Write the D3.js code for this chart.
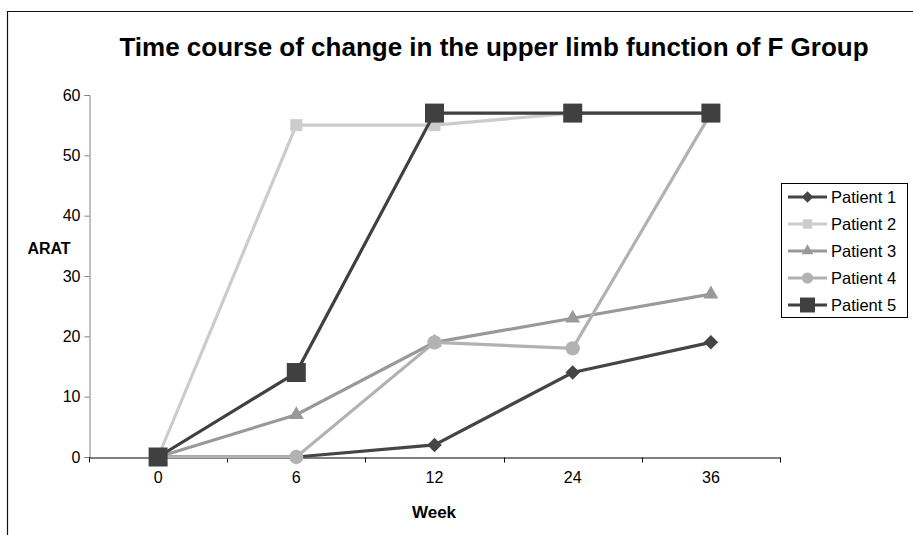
<!DOCTYPE html>
<html>
<head>
<meta charset="utf-8">
<script src="https://cdn.jsdelivr.net/npm/d3@7"></script>
<style>
  body { margin: 0; background: #fff; }
  text { font-family: "Liberation Sans", Arial, sans-serif; }
</style>
</head>
<body>
<div id="chart"></div>
<script>
const weeks = ["0", "6", "12", "24", "36"]
const patient1 = [0, 0, 2, 14, 19]
const patient2 = [0, 55, 55, 57, 57]
const patient3 = [0, 7, 19, 23, 27]
const patient4 = [0, 0, 19, 18, 57]
const patient5 = [0, 14, 57, 57, 57]
const yTicks = [0, 10, 20, 30, 40, 50, 60]

const series = [
    { name: "Patient 1", values: patient1, color: "#454545", shape: "diamond", size: 105 },
    { name: "Patient 2", values: patient2, color: "#cccccc", shape: "square", size: 144 },
    { name: "Patient 3", values: patient3, color: "#999999", shape: "triangle", size: 95 },
    { name: "Patient 4", values: patient4, color: "#b2b2b2", shape: "circle", size: 160 },
    { name: "Patient 5", values: patient5, color: "#404040", shape: "square", size: 361 }
]

const width = 913, height = 535

const svg = d3.select("#chart").append("svg")
    .attr("width", width)
    .attr("height", height)

// outer chart frame (cropped at the right and bottom)
svg.append("line").attr("x1", 7).attr("x2", width).attr("y1", 11.5).attr("y2", 11.5)
    .attr("stroke", "#111").attr("stroke-width", 1.2)
svg.append("line").attr("x1", 7.5).attr("x2", 7.5).attr("y1", 11).attr("y2", height)
    .attr("stroke", "#111").attr("stroke-width", 1.2)

svg.append("text")
    .attr("x", 494).attr("y", 56)
    .attr("text-anchor", "middle")
    .style("font-size", "26px").style("font-weight", "bold")
    .text("Time course of change in the upper limb function of F Group")

const x = d3.scaleBand().domain(weeks).range([89, 780])
const y = d3.scaleLinear().domain([0, 60]).range([457, 95])

// y axis
const yAxis = svg.append("g")
    .attr("transform", "translate(89.5,0)")
    .call(d3.axisLeft(y).tickValues(yTicks).tickSize(5).tickPadding(4))
yAxis.select(".domain").attr("stroke", "#808080")
yAxis.selectAll(".tick line").attr("stroke", "#808080")
yAxis.selectAll("text").style("font-size", "16px").attr("fill", "#000")

// x axis: labels centred in bands, ticks at band edges
const xAxis = svg.append("g")
    .attr("transform", "translate(0,457.5)")
    .call(d3.axisBottom(x).tickSize(0).tickPadding(14))
xAxis.select(".domain").attr("stroke", "#000")
xAxis.selectAll("text").style("font-size", "16px").attr("fill", "#000")

const edges = weeks.map(function (d) { return x(d) }).concat([x.range()[1]])
xAxis.selectAll(".edge")
    .data(edges)
    .enter().append("line")
    .attr("class", "edge")
    .attr("x1", function (d) { return Math.round(d) + 0.5 })
    .attr("x2", function (d) { return Math.round(d) + 0.5 })
    .attr("y1", 0).attr("y2", 5)
    .attr("stroke", "#000")

svg.append("text")
    .attr("x", 49).attr("y", 254)
    .attr("text-anchor", "middle")
    .style("font-size", "16px").style("font-weight", "bold")
    .text("ARAT")

svg.append("text")
    .attr("x", 434).attr("y", 518)
    .attr("text-anchor", "middle")
    .style("font-size", "17px").style("font-weight", "bold")
    .text("Week")

function symbolFor(s) {
    if (s.shape === "circle") return d3.symbol(d3.symbolCircle, s.size)()
    if (s.shape === "triangle") return d3.symbol(d3.symbolTriangle, s.size)()
    return d3.symbol(d3.symbolSquare, s.size)()
}

const cx = function (d, i) { return x(weeks[i]) + x.bandwidth() / 2 }
const line = d3.line()
    .x(cx)
    .y(function (d) { return y(d) })

series.forEach(function (s) {
    const g = svg.append("g")
    g.append("path")
        .datum(s.values)
        .attr("d", line)
        .attr("fill", "none")
        .attr("stroke", s.color)
        .attr("stroke-width", 3.2)

    g.selectAll(".marker")
        .data(s.values)
        .enter().append("path")
        .attr("class", "marker")
        .attr("d", symbolFor(s))
        .attr("transform", function (d, i) {
            return "translate(" + cx(d, i) + "," + y(d) + ")" + (s.shape === "diamond" ? " rotate(45)" : "")
        })
        .attr("fill", s.color)
})

// legend
const legend = svg.append("g")
legend.append("rect")
    .attr("x", 781.5).attr("y", 183.5)
    .attr("width", 126).attr("height", 134)
    .attr("fill", "#fff").attr("stroke", "#000")

const item = legend.selectAll(".item")
    .data(series)
    .enter().append("g")
    .attr("class", "item")
    .attr("transform", function (d, i) { return "translate(0," + (197 + i * 27) + ")" })

item.append("line")
    .attr("x1", 788).attr("x2", 827)
    .attr("stroke", function (d) { return d.color })
    .attr("stroke-width", 3.2)

item.append("path")
    .attr("d", function (d) {
        return symbolFor({ shape: d.shape, size: d.size * 0.62 })
    })
    .attr("transform", function (d) { return "translate(807.5,0)" + (d.shape === "diamond" ? " rotate(45)" : "") })
    .attr("fill", function (d) { return d.color })

item.append("text")
    .attr("x", 831).attr("dy", "0.36em")
    .style("font-size", "16.5px")
    .text(function (d) { return d.name })
</script>
</body>
</html>
